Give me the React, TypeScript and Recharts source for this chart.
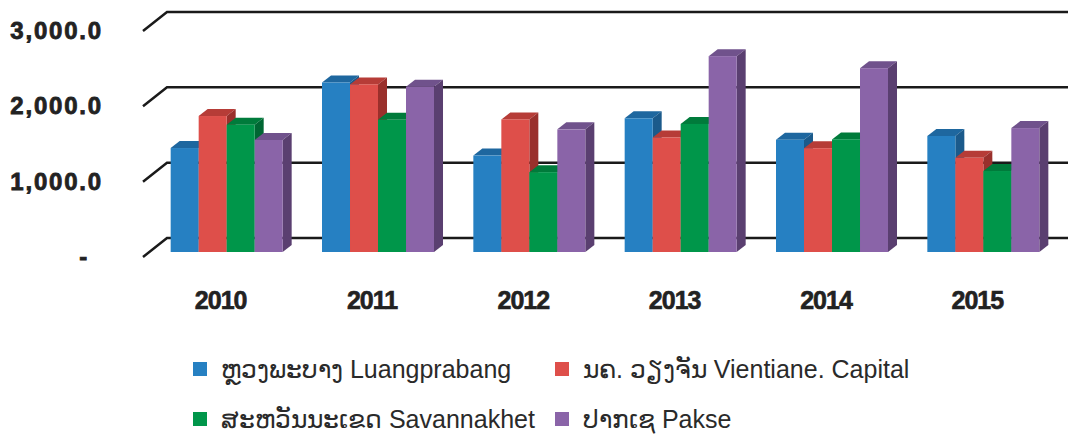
import {BarChart, Bar, XAxis, YAxis, CartesianGrid, Legend} from 'recharts';

const years = ['2010', '2011', '2012', '2013', '2014', '2015'];
const luangprabang = [1380, 2250, 1280, 1775, 1490, 1540];
const vientiane = [1805, 2225, 1760, 1520, 1378, 1250];
const savannakhet = [1690, 1755, 1060, 1700, 1495, 1075];
const pakse = [1487, 2195, 1628, 2600, 2440, 1645];
const yTicks = [0, 1000, 2000, 3000];

const SERIES = [
  {key: 'lpb', name: 'ຫຼວງພະບາງ Luangprabang', values: luangprabang, front: '#2680c2', top: '#1e679f', side: '#1b5a8b'},
  {key: 'vte', name: 'ນຄ. ວຽງຈັນ Vientiane. Capital', values: vientiane, front: '#de4f4a', top: '#b63c37', side: '#9a302c'},
  {key: 'svk', name: 'ສະຫວັນນະເຂດ Savannakhet', values: savannakhet, front: '#00964a', top: '#007b3b', side: '#006633'},
  {key: 'pks', name: 'ປາກເຊ Pakse', values: pakse, front: '#8a64a8', top: '#70528c', side: '#5a3f70'},
];

const data = years.map((year, i) => {
  const row: {[k: string]: string | number} = {year};
  SERIES.forEach((s) => {
    row[s.key] = s.values[i];
  });
  return row;
});

// depth of the fake 3d effect
const DX = 9;
const DY = 7;

const bar3d = (c: {front: string; top: string; side: string}) => (props: any) => {
  const {x, y, width, height} = props;
  if (!height) return <g />;
  return (
    <g>
      <path d={`M${x},${y}L${x + DX},${y - DY}L${x + width + DX},${y - DY}L${x + width},${y}Z`} fill={c.top} />
      <path
        d={`M${x + width},${y}L${x + width + DX},${y - DY}L${x + width + DX},${y + height - DY}L${x + width},${y + height}Z`}
        fill={c.side}
      />
      <rect x={x} y={y} width={width} height={height} fill={c.front} />
    </g>
  );
};

const gridLine = (props: any) => {
  const {x1, y1, x2} = props;
  return (
    <path
      key={`grid-${y1}`}
      d={`M${x1 - 8},${y1 + 5}L${x1 + 16},${y1 - 14}L${x2 + 20},${y1 - 14}`}
      fill="none"
      stroke="#1a1a1a"
      strokeWidth={2.5}
    />
  );
};

const fmt = (v: number) =>
  v === 0 ? '-' : v.toLocaleString('en-US', {minimumFractionDigits: 1, maximumFractionDigits: 1});

const YTick = ({y, payload}: any) => (
  <text
    x={payload.value === 0 ? 89 : 103}
    y={y + 13}
    textAnchor="end"
    fontFamily="'Liberation Sans', Arial, sans-serif"
    fontWeight="bold"
    fontSize={24}
    letterSpacing={1.8}
    fill="#222"
    stroke="#222"
    strokeWidth={0.8}>
    {fmt(payload.value)}
  </text>
);

const XTick = ({x, payload}: any) => (
  <text
    x={x - 6}
    y={309}
    textAnchor="middle"
    fontFamily="'Liberation Sans', Arial, sans-serif"
    fontWeight="bold"
    fontSize={25}
    letterSpacing={-1}
    fill="#222"
    stroke="#222"
    strokeWidth={0.6}>
    {payload.value}
  </text>
);

const LegendBox = () => (
  <div
    style={{
      display: 'grid',
      gridTemplateColumns: '362px 362px',
      gridAutoRows: '50px',
      fontFamily: "'Liberation Sans', Arial, sans-serif",
      fontSize: 25,
      color: '#2a2a2a',
    }}>
    {SERIES.map((s) => (
      <div key={s.key} style={{display: 'flex', alignItems: 'center', whiteSpace: 'nowrap'}}>
        <span style={{width: 14, height: 14, background: s.front, marginRight: 14, display: 'inline-block'}} />
        <span>{s.name}</span>
      </div>
    ))}
  </div>
);

export default function App() {
  return (
    <div style={{position: 'absolute', left: 0, top: 0, width: 1068, height: 434, background: '#fff'}}>
      <BarChart
        width={1068}
        height={434}
        data={data}
        margin={{top: 26, right: 9, bottom: 42, left: 0}}
        barCategoryGap="13%"
        barGap={0}>
        <CartesianGrid vertical={false} horizontal={gridLine} />
        <XAxis dataKey="year" axisLine={false} tickLine={false} height={40} tick={<XTick />} />
        <YAxis
          width={151}
          domain={[0, 3000]}
          ticks={yTicks}
          axisLine={false}
          tickLine={false}
          tick={<YTick />}
        />
        {SERIES.map((s) => (
          <Bar
            key={s.key}
            dataKey={s.key}
            name={s.name}
            fill={s.front}
            shape={bar3d(s)}
            isAnimationActive={false}
          />
        ))}
        <Legend
          layout="vertical"
          align="center"
          verticalAlign="bottom"
          wrapperStyle={{left: 193, top: 344, width: 740}}
          content={<LegendBox />}
        />
      </BarChart>
    </div>
  );
}
